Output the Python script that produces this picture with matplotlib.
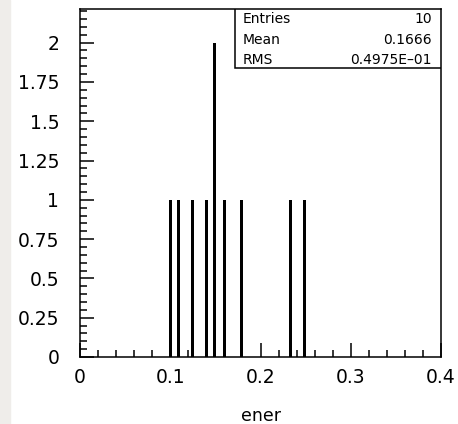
import matplotlib.pyplot as plt
from matplotlib.patches import Rectangle
from matplotlib.ticker import MultipleLocator, FuncFormatter

# histogram bins that were filled (bin centre, content)
bin_centers = [0.100, 0.109, 0.1245, 0.140, 0.149, 0.160, 0.179, 0.233, 0.249]
bin_counts = [1, 1, 1, 1, 2, 1, 1, 1, 1]

stat_names = ["Entries", "Mean", "RMS"]
stat_values = ["10", "0.1666", "0.4975E\u201301"]

x_label = "ener"

fig = plt.figure(figsize=(4.58, 4.24), dpi=100)
fig.patches.append(Rectangle((0, 0), 10 / 458, 1, transform=fig.transFigure,
                             color="#efedea", zorder=0))

ax = fig.add_axes([80 / 458, 67 / 424, 361 / 458, 348 / 424])
ax.bar(bin_centers, bin_counts, width=0.0032, color="black", linewidth=0)

ax.set_xlim(0, 0.4)
ax.set_ylim(0, 2.214)

ax.xaxis.set_major_locator(MultipleLocator(0.1))
ax.xaxis.set_minor_locator(MultipleLocator(0.02))
ax.yaxis.set_major_locator(MultipleLocator(0.25))
ax.yaxis.set_minor_locator(MultipleLocator(0.05))
fmt = FuncFormatter(lambda v, p: "%g" % round(v, 4))
ax.xaxis.set_major_formatter(fmt)
ax.yaxis.set_major_formatter(fmt)

ax.tick_params(which="both", direction="in", top=False, right=False,
               width=1.1, color="black")
ax.tick_params(which="major", length=10)
ax.tick_params(which="minor", length=5)
ax.tick_params(axis="y", which="major", pad=15, labelsize=13.5)
ax.tick_params(axis="x", which="major", pad=8, labelsize=13.5)

for s in ax.spines.values():
    s.set_linewidth(1.1)
    s.set_color("black")

ax.set_xlabel(x_label, fontsize=12.5)
ax.xaxis.set_label_coords(0.5, -0.17)
ax.xaxis.label.set_va("center")

# stats box
ax.add_patch(Rectangle((0.429, 0.830), 0.571, 0.170, transform=ax.transAxes,
                       facecolor="white", edgecolor="black", linewidth=1.1,
                       zorder=5))
rows_y = [0.971, 0.911, 0.853]
for name, val, yy in zip(stat_names, stat_values, rows_y):
    ax.text(0.45, yy, name, transform=ax.transAxes, fontsize=10,
            va="center", ha="left", zorder=6)
    ax.text(0.975, yy, val, transform=ax.transAxes, fontsize=10,
            va="center", ha="right", zorder=6)

fig.savefig("out.png", dpi=100)
